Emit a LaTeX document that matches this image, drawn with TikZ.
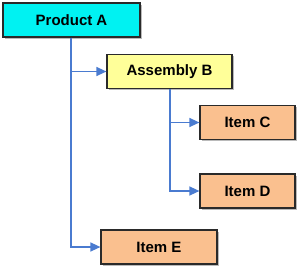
\documentclass[tikz,border=0pt]{standalone}
\usepackage{fontspec}
\setmainfont{Liberation Sans}
\usetikzlibrary{arrows.meta,shadows}
\definecolor{cyanbox}{HTML}{00F2F2}
\definecolor{yelbox}{HTML}{FFFF99}
\definecolor{orbox}{HTML}{FAC08F}
\definecolor{linkblue}{HTML}{4A7BD0}
\definecolor{edge}{HTML}{2A2A2A}
\begin{document}
\begin{tikzpicture}[x=1pt,y=-1pt,
  box/.style={draw=edge,line width=1.2pt,minimum height=34pt,inner sep=0pt,
    font=\fontsize{15}{17}\selectfont\bfseries,
    drop shadow={shadow xshift=1.6pt,shadow yshift=-1.6pt,fill=black!45,opacity=0.6}},
  link/.style={draw=linkblue,line width=1.4pt,-{Triangle[length=10pt,width=9pt]}}]
\useasboundingbox (0,0) rectangle (298,269);
\node[box,fill=cyanbox,minimum width=137pt] (A) at (71.5,20) {Product A};
\node[box,fill=yelbox,minimum width=125pt] (B) at (169.5,71.5) {Assembly B};
\node[box,fill=orbox,minimum width=95pt] (C) at (247.5,122.5) {Item C};
\node[box,fill=orbox,minimum width=95pt] (D) at (247.5,191) {Item D};
\node[box,fill=orbox,minimum width=116pt] (E) at (159,247) {Item E};
\coordinate (a0) at (71,0);
\coordinate (b0) at (170,0);
\draw[link] (A.south -| a0) |- (B.west);
\draw[link] (A.south -| a0) |- (E.west);
\draw[link] (B.south -| b0) |- (C.west);
\draw[link] (B.south -| b0) |- (D.west);
\end{tikzpicture}
\end{document}
